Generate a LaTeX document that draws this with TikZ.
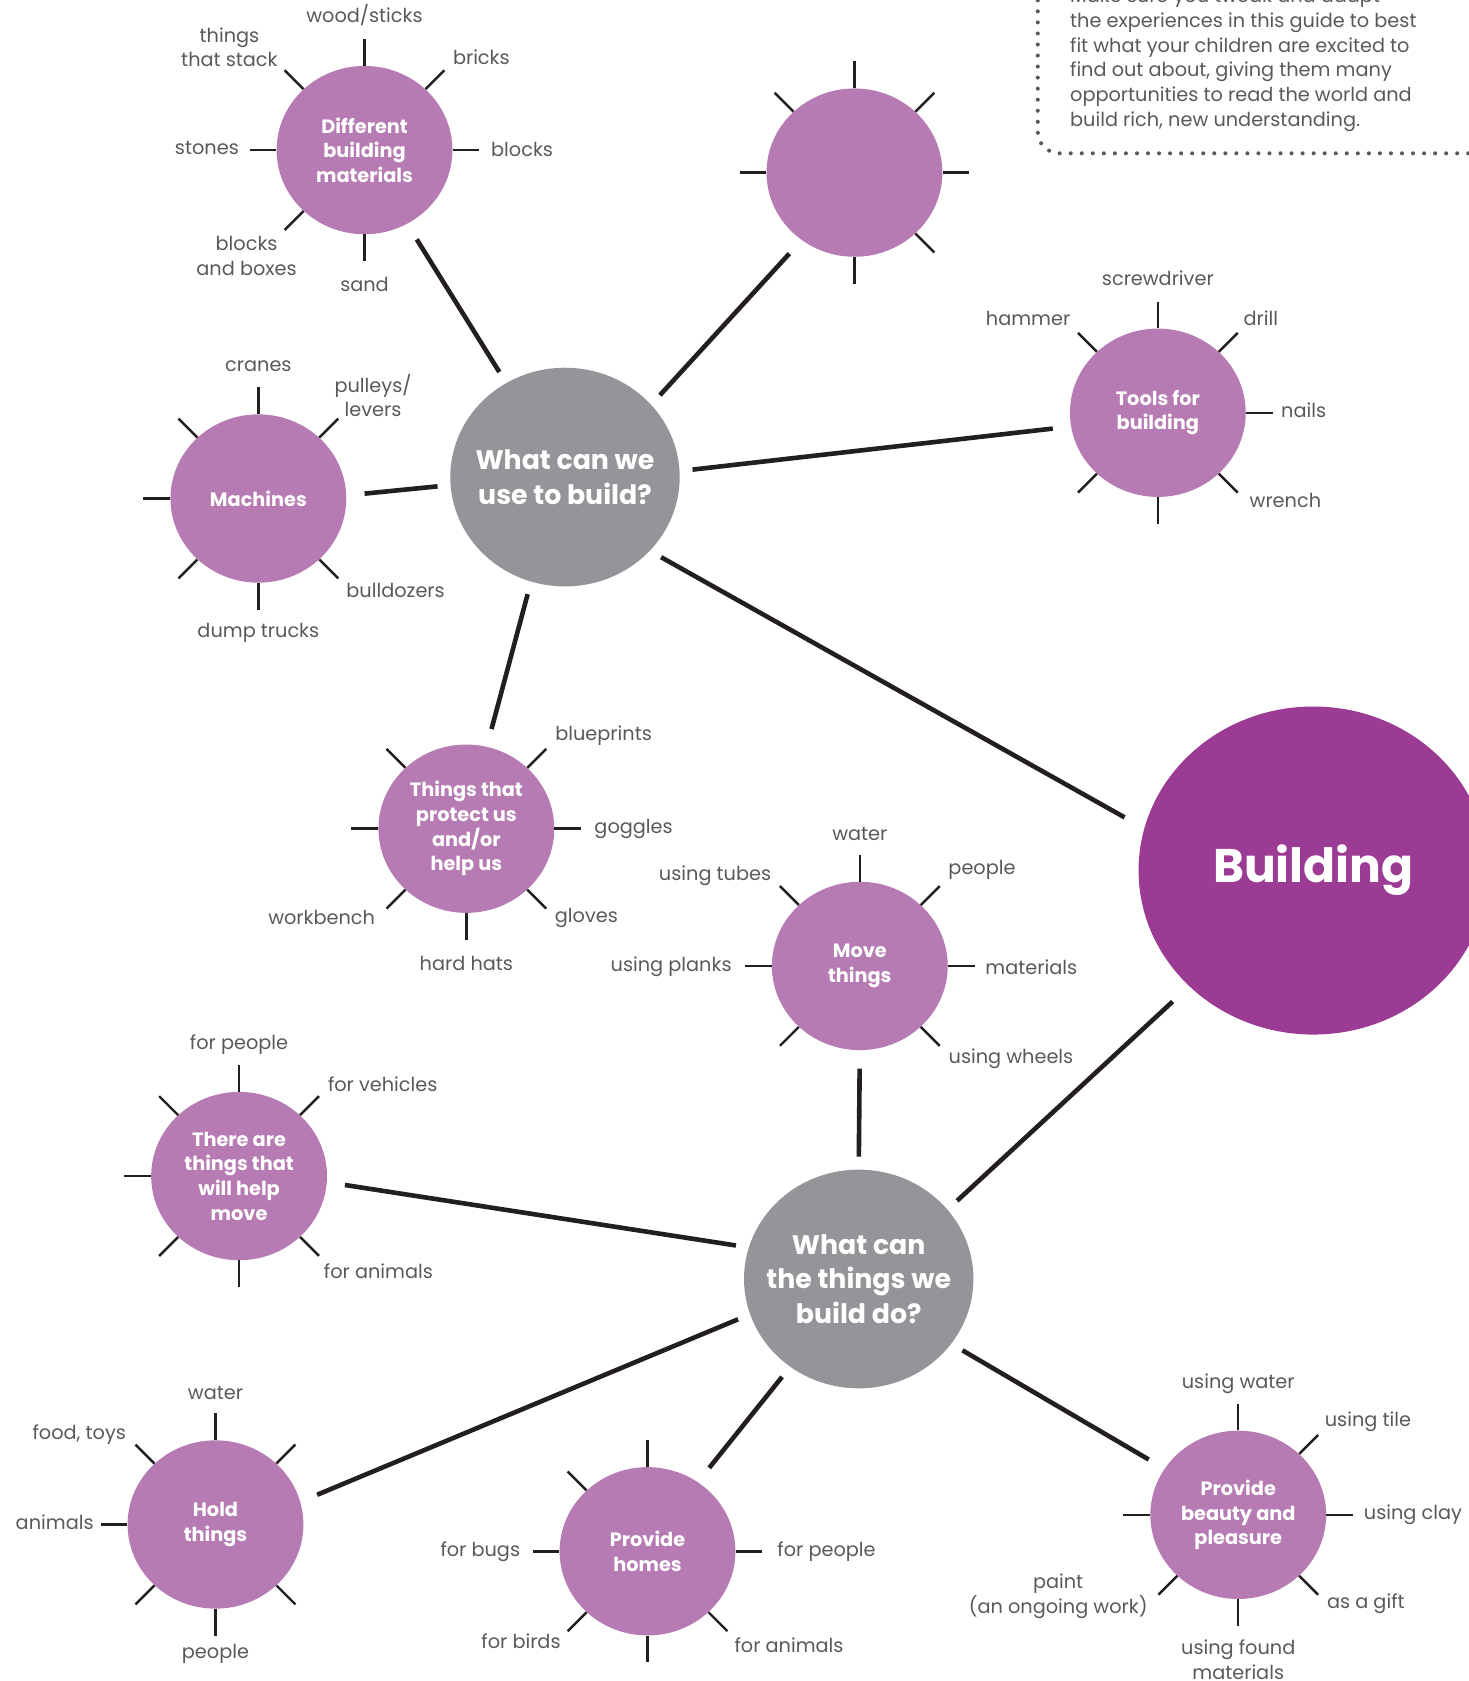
\documentclass[tikz,border=0pt]{standalone}
\usepackage{fontspec}
\setmainfont{Poppins}
\usetikzlibrary{shapes.geometric}
\definecolor{subc}{HTML}{B77BB3}
\definecolor{hubc}{HTML}{939598}
\definecolor{bigc}{HTML}{9B3B93}
\definecolor{txtc}{HTML}{58595B}
\definecolor{linec}{HTML}{231F20}
\definecolor{dotc}{HTML}{58595B}
\tikzset{
  sub/.style={ellipse, fill=subc, minimum width=164pt, minimum height=157pt, inner sep=0pt, text=white, font=\bfseries\fontsize{18}{23}\selectfont, align=center},
  hub/.style={ellipse, fill=hubc, minimum width=214pt, minimum height=204pt, inner sep=0pt},
  hubtxt/.style={inner sep=0pt, text=white, font=\bfseries\fontsize{25}{32}\selectfont, align=center},
  big/.style={ellipse, fill=bigc, minimum width=326pt, minimum height=306pt, inner sep=0pt, text=white, font=\bfseries\fontsize{44}{52}\selectfont},
  lbl/.style={text=txtc, font=\fontsize{18}{23}\selectfont, align=center, inner sep=0pt},
  spoke/.style={draw=linec, line width=2.3pt},
  conn/.style={draw=linec, line width=4.3pt, shorten <=12pt, shorten >=17pt},
  dots/.style={draw=dotc, line width=3.8pt, line cap=round, dash pattern=on 0pt off 10.3pt},
}
\newcommand\mkspokes[2]{\foreach \a in {#2} {\draw[spoke] (#1.\a) -- ++(\a:25pt);}}
\begin{document}
\begin{tikzpicture}[x=1pt,y=-1pt]
\useasboundingbox (0,0) rectangle (1370,1568);
% note box
\draw[dots, rounded corners=20pt] (968,-10) -- (968,143) -- (1385,143);
\node[lbl, align=left, anchor=west] (note) at (998,56) {Make sure you tweak and adapt\\the experiences in this guide to best\\fit what your children are excited to\\find out about, giving them many\\opportunities to read the world and\\build rich, new understanding.};
% hubs
\node[hub] (use) at (527,445) {};
\node[hubtxt] (usetxt) at (use.center) {What can we\\use to build?};
\node[hub] (do) at (801,1193) {};
\node[hubtxt] (dotxt) at (do.center) {What can\\the things we\\build do?};
\node[big] (bld) at (1225,812) {Building};
% sub nodes
\node[sub] (dbm) at (340,140) {Different\\building\\materials};
\node[sub] (top) at (797,161) {};
\node[sub] (tools) at (1080,385) {Tools for\\building};
\node[sub] (mach) at (241,465) {Machines};
\node[sub] (prot) at (435,773) {Things that\\protect us\\and/or\\help us};
\node[sub] (move) at (802,901) {Move\\things};
\node[sub] (help) at (223,1097) {There are\\things that\\will help\\move};
\node[sub] (hold) at (201,1422) {Hold\\things};
\node[sub] (homes) at (604,1447) {Provide\\homes};
\node[sub] (beauty) at (1155,1413) {Provide\\beauty and\\pleasure};
% spokes
\mkspokes{dbm}{90,0,180,270,45,135,225}
\mkspokes{top}{90,0,180,270,45,135,315}
\mkspokes{tools}{90,0,270,45,135,315,225}
\mkspokes{mach}{90,180,270,135,45,225,315}
\mkspokes{prot}{180,0,270,135,45,225,315}
\mkspokes{move}{90,180,0,135,45,225,315}
\mkspokes{help}{90,180,270,135,45,225,315}
\mkspokes{hold}{90,180,270,135,45,225,315}
\mkspokes{homes}{90,180,0,270,135,225,315}
\mkspokes{beauty}{90,180,0,270,45,225,315}
% connectors
\draw[conn] (use.122) -- (dbm.-60);
\draw[conn] (use.40) -- (top.232);
\draw[conn] (use.3) -- (tools.189);
\draw[conn] (use.184) -- (mach.2);
\draw[conn] (use.252) -- (prot.76);
\draw[conn, shorten >=21pt] (use.-41.5) -- (bld.166);
\draw[conn, shorten >=21pt] (do.38) -- (bld.223);
\draw[conn] (do.90) -- (move.270);
\draw[conn] (do.164) -- (help.-4);
\draw[conn] (do.198) -- (hold.15);
\draw[conn] (do.232) -- (homes.54);
\draw[conn] (do.-35) -- (beauty.148);
% labels: building materials
\node[lbl] (l1) at (340,14) {wood/sticks};
\node[lbl] (l2) at (214,44) {things\\that stack};
\node[lbl] (l3) at (449,53) {bricks};
\node[lbl] (l4) at (487,139) {blocks};
\node[lbl] (l5) at (193,138) {stones};
\node[lbl] (l6) at (230,239) {blocks\\and boxes};
\node[lbl] (l7) at (340,265) {sand};
% tools
\node[lbl] (t1) at (1080,260) {screwdriver};
\node[lbl] (t2) at (959,297) {hammer};
\node[lbl] (t3) at (1176,297) {drill};
\node[lbl] (t4) at (1216,383) {nails};
\node[lbl] (t5) at (1199,467) {wrench};
% machines
\node[lbl] (m1) at (241,342) {cranes};
\node[lbl] (m2) at (348,369) {pulleys/\\levers};
\node[lbl] (m3) at (369,551) {bulldozers};
\node[lbl] (m4) at (241,590) {dump trucks};
% protect
\node[lbl] (p1) at (563,686) {blueprints};
\node[lbl] (p2) at (591,773) {goggles};
\node[lbl] (p3) at (547,856) {gloves};
\node[lbl] (p4) at (435,899) {hard hats};
\node[lbl] (p5) at (300,856) {workbench};
% move
\node[lbl] (v1) at (802,778) {water};
\node[lbl] (v2) at (667,817) {using tubes};
\node[lbl] (v3) at (916,811) {people};
\node[lbl] (v4) at (962,902) {materials};
\node[lbl] (v5) at (626,902) {using planks};
\node[lbl] (v6) at (943,988) {using wheels};
% help move
\node[lbl] (h1) at (223,974) {for people};
\node[lbl] (h2) at (357,1011) {for vehicles};
\node[lbl] (h3) at (353,1186) {for animals};
% hold
\node[lbl] (o1) at (201,1299) {water};
\node[lbl] (o2) at (74,1338) {food, toys};
\node[lbl] (o3) at (51,1420) {animals};
\node[lbl] (o4) at (201,1543) {people};
% homes
\node[lbl] (r1) at (448,1447) {for bugs};
\node[lbl] (r2) at (771,1447) {for people};
\node[lbl] (r3) at (486,1531) {for birds};
\node[lbl] (r4) at (736,1535) {for animals};
% beauty
\node[lbl] (b1) at (1155,1291) {using water};
\node[lbl] (b2) at (1276,1326) {using tile};
\node[lbl] (b3) at (1318,1413) {using clay};
\node[lbl] (b4) at (987,1489) {paint\\(an ongoing work)};
\node[lbl] (b5) at (1274,1496) {as a gift};
\node[lbl] (b6) at (1155,1548) {using found\\materials};
\end{tikzpicture}
\end{document}
